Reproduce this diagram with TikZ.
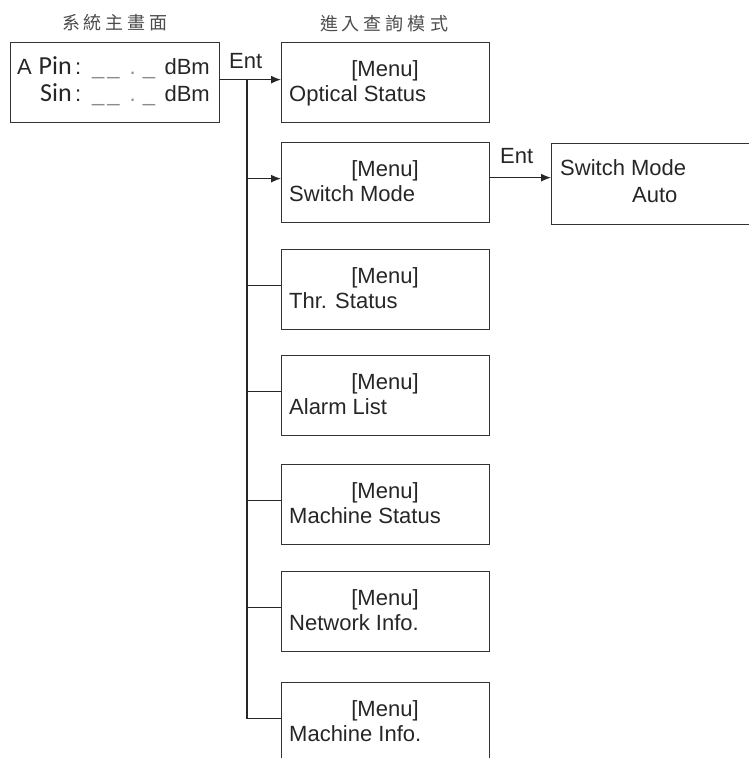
\documentclass[tikz,border=0pt]{standalone}
\usepackage{fontspec}
\setmainfont{Liberation Sans}
\newfontfamily\carlito{Carlito}
\newfontfamily\cjk{Noto Sans CJK TC}
\usetikzlibrary{arrows.meta}
\newcommand{\menuitem}[3]{%
  \node[menubox, anchor=north west] (#1) at (281,#2) {};
  \node[txt, anchor=base] (#1-a) at (385,#2+34) {[Menu]};
  \node[txt, anchor=base west] (#1-b) at (289,#2+59) {#3};
  \coordinate (#1p) at ([yshift=4pt]#1.west);
}
\newcommand{\readout}[3]{% name, baseline y, label
  \node[pinfont, anchor=base east] (#1-l) at (72,#2) {#3};
  \node[txt, anchor=base west] (#1-c) at (75,#2) {:};
  \node[txt, anchor=base west, text=black!45] (#1-d) at (92,#2) {\_\kern3pt\_\kern10pt.\kern7pt\_};
  \node[txt, anchor=base east] (#1-u) at (210,#2) {dBm};
}
\begin{document}
\begin{tikzpicture}[x=1pt,y=-1pt,
  txt/.style={inner sep=0pt, font=\fontsize{22}{25}\selectfont, text=black!85},
  pinfont/.style={inner sep=0pt, font=\carlito\fontsize{26}{27}\selectfont, text=black!85},
  title/.style={inner sep=0pt, font=\cjk\fontsize{18}{20}\selectfont, text=black!70},
  menubox/.style={draw=black!80, line width=1.3pt, minimum width=208pt, minimum height=80pt, inner sep=0pt},
  conn/.style={draw=black!85, line width=1.3pt},
  arr/.style={conn, -{Latex[length=10pt,width=8pt]}}]
\useasboundingbox (0,0) rectangle (749,758);
\clip (0,0) rectangle (749,758);
% titles
\node[title] (t1) at (115,23) {系\kern4pt 統\kern4pt 主\kern4pt 畫\kern4pt 面};
\node[title] (t2) at (384,24) {進\kern4pt 入\kern4pt 查\kern4pt 詢\kern4pt 模\kern4pt 式};
% main box
\node[menubox, minimum width=209pt, anchor=north west] (main) at (10,42) {};
\node[txt, anchor=base west] (ma) at (17,74) {A};
\readout{r1}{74}{Pin}
\readout{r2}{101}{Sin}
% menu items
\menuitem{b1}{42}{Optical Status}
\menuitem{b2}{142}{Switch Mode}
\menuitem{b3}{249}{Thr. Status}
\menuitem{b4}{355}{Alarm List}
\menuitem{b5}{464}{Machine Status}
\menuitem{b6}{571}{Network Info.}
\menuitem{b7}{682}{Machine Info.}
% switch mode detail
\node[menubox, minimum width=215pt, minimum height=81pt, anchor=north west] (sw) at (551,143) {};
\node[txt, anchor=base west] (sw-a) at (560,175) {Switch Mode};
\node[txt, anchor=base west] (sw-b) at (632,202) {Auto};
% labels
\node[txt, anchor=base west] (ent1) at (229,68) {Ent};
\node[txt, anchor=base west] (ent2) at (500,163) {Ent};
% connectors
\coordinate (mp) at ([yshift=3pt]main.east);
\draw[arr] (mp) -- (mp -| b1.west);
\coordinate (tj) at (247,0 |- mp);
\draw[conn] (tj) |- (b7p);
\draw[arr] (tj |- b2p) -- (b2p);
\draw[conn] (tj |- b3p) -- (b3p);
\draw[conn] (tj |- b4p) -- (b4p);
\draw[conn] (tj |- b5p) -- (b5p);
\draw[conn] (tj |- b6p) -- (b6p);
\coordinate (s1) at ([yshift=5pt]b2.east);
\draw[arr] (s1) -- (s1 -| sw.west);
\end{tikzpicture}
\end{document}
